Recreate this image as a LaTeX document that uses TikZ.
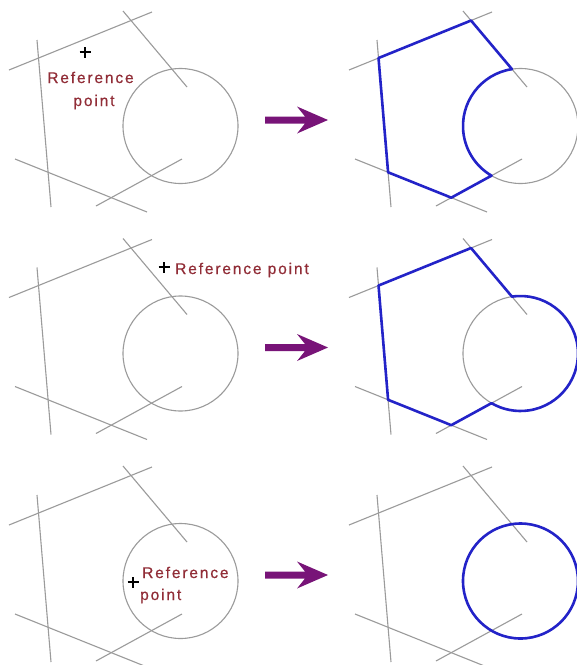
\documentclass[tikz,border=0pt]{standalone}
\usepackage{fontspec}
\newfontfamily\labelfont[LetterSpace=12,FakeBold=0.6]{Liberation Sans}
\usetikzlibrary{calc}
\definecolor{guide}{RGB}{155,155,155}
\definecolor{result}{RGB}{35,35,200}
\definecolor{labelred}{RGB}{145,45,55}
\definecolor{arrowpurple}{RGB}{120,20,120}
\tikzset{
  guideline/.style={draw=guide, line width=1.1pt},
  resultline/.style={draw=result, line width=2.6pt, line join=round},
  refmark/.style={draw=black, line width=2.1pt},
  reflabel/.style={text=labelred, font=\labelfont\fontsize{15.5}{18}\selectfont, inner sep=0pt},
  bigarrow/.style={fill=arrowpurple},
}
\newcommand\basefig{%
  \coordinate (a1) at (9,-70);   \coordinate (a2) at (152,-12);
  \coordinate (b1) at (123,-11); \coordinate (b2) at (187,-87);
  \coordinate (c1) at (37,-40);  \coordinate (c2) at (51,-207);
  \coordinate (d1) at (15,-159); \coordinate (d2) at (147,-212);
  \coordinate (e1) at (96,-206); \coordinate (e2) at (182,-159);
  \coordinate (O) at (180.5,-126);
  \draw[guideline] (a1) -- (a2);
  \draw[guideline] (b1) -- (b2);
  \draw[guideline] (c1) -- (c2);
  \draw[guideline] (d1) -- (d2);
  \draw[guideline] (e1) -- (e2);
  \draw[guideline] (O) circle[radius=57.5];
  \coordinate (p31) at (intersection of c1--c2 and a1--a2);
  \coordinate (p12) at (intersection of a1--a2 and b1--b2);
  \coordinate (p54) at (intersection of e1--e2 and d1--d2);
  \coordinate (p43) at (intersection of d1--d2 and c1--c2);
  \coordinate (q2) at ($(O)+(98.54:57.5)$);
}
\newcommand\bigarrowshape{%
  \coordinate (ar) at (265,-120);
  \fill[bigarrow] (ar) ++(0,3.5) -- ++(40,0) -- ++(-8,10) -- ++(31,-13.5)
     -- ++(-31,-13.5) -- ++(8,10) -- ++(-40,0) -- cycle;
}
\begin{document}
\begin{tikzpicture}[x=1pt,y=1pt]
\useasboundingbox (0,0) rectangle (577,-665);
\fill[white] (0,0) rectangle (577,-665);
% Row 1
\begin{scope}
  \basefig
  \bigarrowshape
  \coordinate (m1) at (85,-52);
  \draw[refmark] (m1) ++(-5.5,0) -- ++(11,0) (m1) ++(0,-5.5) -- ++(0,11);
\end{scope}
\begin{scope}[shift={(340,0)}]
  \basefig
  \draw[resultline] (p31) -- (p12) -- (q2)
     arc[start angle=98.54, end angle=239.72, radius=57.5] -- (p54) -- (p43) -- cycle;
\end{scope}
% Row 2
\begin{scope}[shift={(0,-227.5)}]
  \basefig
  \bigarrowshape
  \coordinate (m2) at (164,-39.5);
  \draw[refmark] (m2) ++(-5.5,0) -- ++(11,0) (m2) ++(0,-5.5) -- ++(0,11);
\end{scope}
\begin{scope}[shift={(340,-227.5)}]
  \basefig
  \draw[resultline] (p31) -- (p12) -- (q2)
     arc[start angle=98.54, end angle=-120.28, radius=57.5] -- (p54) -- (p43) -- cycle;
\end{scope}
% Row 3
\begin{scope}[shift={(0,-455)}]
  \basefig
  \bigarrowshape
  \coordinate (m3) at (133,-127);
  \draw[refmark] (m3) ++(-5.5,0) -- ++(11,0) (m3) ++(0,-5.5) -- ++(0,11);
\end{scope}
\begin{scope}[shift={(340,-455)}]
  \basefig
  \draw[resultline] (O) circle[radius=57.5];
\end{scope}
% Labels
\node[reflabel, anchor=base] (lab1a) at (90.5,-83) {Reference};
\node[reflabel, anchor=base] (lab1b) at (94,-106) {point};
\node[reflabel, anchor=base west] (lab2) at (175,-274) {Reference point};
\node[reflabel, anchor=base west] (lab3a) at (142,-578) {Reference};
\node[reflabel, anchor=base west] (lab3b) at (140,-600) {point};
\end{tikzpicture}
\end{document}
